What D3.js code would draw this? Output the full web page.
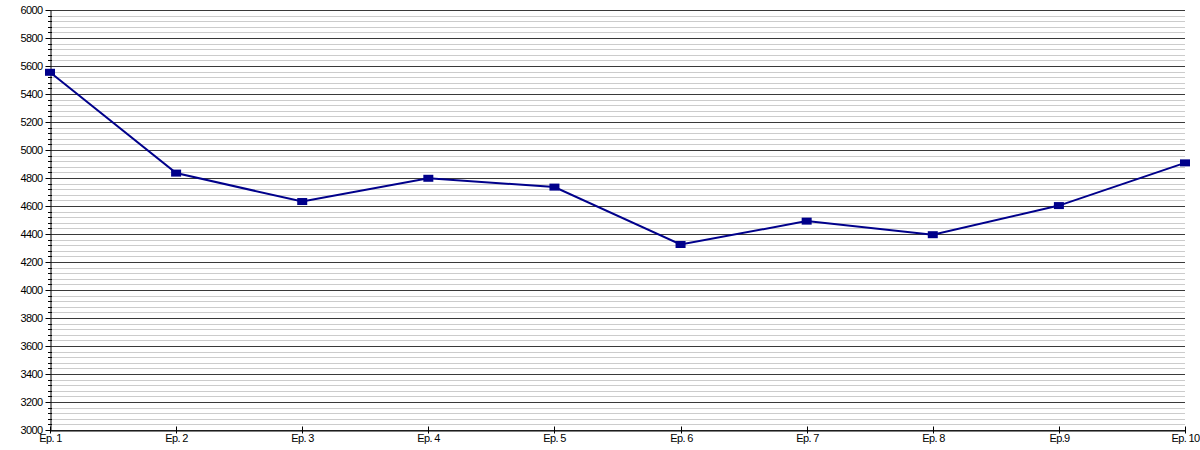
<!DOCTYPE html>
<html><head><meta charset="utf-8">
<script src="https://cdn.jsdelivr.net/npm/d3@7"></script>
<style>body{margin:0;background:#fff}text{font-family:"Liberation Sans",Arial,sans-serif}</style>
</head><body>
<svg id="c" width="1200" height="450"></svg>
<script>
const categories = ["Ep. 1","Ep. 2","Ep. 3","Ep. 4","Ep. 5","Ep. 6","Ep. 7","Ep. 8","Ep.9","Ep. 10"];
const values = [5555, 4835, 4632, 4798, 4735, 4325, 4492, 4395, 4603, 4908];
const yTicks = [3000,3200,3400,3600,3800,4000,4200,4400,4600,4800,5000,5200,5400,5600,5800,6000];
const yMinor = d3.range(3000, 6001, 40);

const svg = d3.select("#c");
const m = {l:50, r:15, t:10, b:20};
const W = 1200, H = 450;
const x = d3.scalePoint().domain(categories).range([m.l, W - m.r]);
const y = d3.scaleLinear().domain([3000, 6000]).range([H - m.b, m.t]);

// minor grid
svg.append("g").selectAll("line").data(yMinor.filter(v => v % 200 !== 0)).join("line")
  .attr("x1", m.l).attr("x2", W - m.r).attr("y1", d => Math.round(y(d)) + 0.5).attr("y2", d => Math.round(y(d)) + 0.5)
  .attr("stroke", "#cccccc").attr("stroke-width", 1);
// major grid
svg.append("g").selectAll("line").data(yTicks).join("line")
  .attr("x1", m.l).attr("x2", W - m.r).attr("y1", d => Math.round(y(d)) + 0.5).attr("y2", d => Math.round(y(d)) + 0.5)
  .attr("stroke", "#3a3a3a").attr("stroke-width", 1);

// y axis minor ticks
svg.append("g").selectAll("line").data(yMinor.filter(v => v % 200 !== 0)).join("line")
  .attr("x1", m.l - 2).attr("x2", m.l + 2).attr("y1", d => Math.round(y(d)) + 0.5).attr("y2", d => Math.round(y(d)) + 0.5)
  .attr("stroke", "#000");

const yAxis = svg.append("g").attr("transform", `translate(${m.l + 0.5},0)`)
  .call(d3.axisLeft(y).tickValues(yTicks).tickSize(5).tickSizeOuter(0).tickFormat(d3.format("d")));
yAxis.select(".domain").attr("stroke", "#000");
yAxis.selectAll(".tick line").attr("stroke", "#000").attr("x2", 0).attr("x1", -5);
yAxis.selectAll(".tick").attr("transform", d => `translate(0,${Math.round(y(d)) + 0.5})`);
yAxis.selectAll("text").attr("x", -8).attr("font-size", 11).attr("letter-spacing", "-0.6px").attr("fill", "#000")
  .attr("font-family", "Liberation Sans, Arial, sans-serif");

const xAxis = svg.append("g").attr("transform", `translate(0,${H - m.b + 0.5})`)
  .call(d3.axisBottom(x).tickSize(4).tickSizeOuter(0));
xAxis.select(".domain").attr("stroke", "#000");
xAxis.selectAll(".tick line").attr("stroke", "#000").attr("y1", -4).attr("y2", 3);
xAxis.selectAll(".tick").attr("transform", d => `translate(${Math.round(x(d)) + 0.5},0)`);
xAxis.selectAll("text").attr("y", 4).attr("font-size", 11).attr("letter-spacing", "-0.6px").attr("fill", "#000")
  .attr("font-family", "Liberation Sans, Arial, sans-serif");

// line
const line = d3.line().x((d, i) => x(categories[i])).y(d => y(d));
svg.append("path").datum(values).attr("d", line).attr("fill", "none")
  .attr("stroke", "#00008b").attr("stroke-width", 2);
svg.append("g").selectAll("rect").data(values).join("rect")
  .attr("x", (d, i) => x(categories[i]) - 5).attr("y", d => y(d) - 3.5)
  .attr("width", 10).attr("height", 7).attr("fill", "#00008b");
</script>
</body></html>
